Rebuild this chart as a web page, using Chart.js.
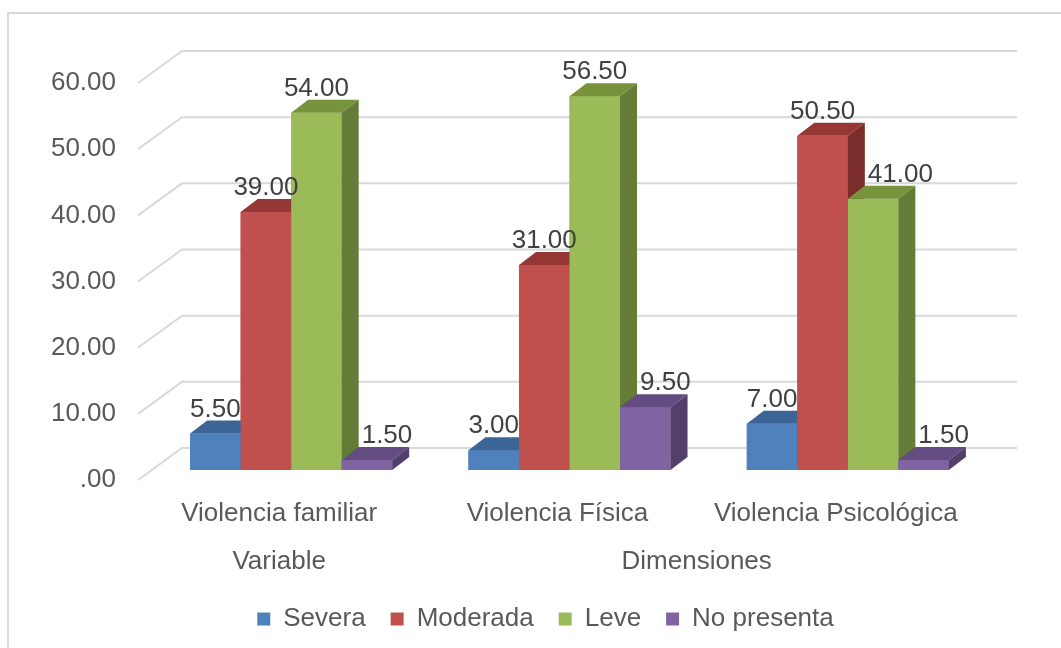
<!DOCTYPE html>
<html>
<head>
<meta charset="utf-8">
<script src="https://cdn.jsdelivr.net/npm/chart.js@4.4.0/dist/chart.umd.min.js"></script>
<style>
  html, body { margin: 0; padding: 0; background: #fff; }
</style>
</head>
<body>
<canvas id="chart" width="1061" height="648"></canvas>
<script>
// data
const categories = ["Violencia familiar", "Violencia Física", "Violencia Psicológica"];
const groupLabels = ["Variable", "Dimensiones"];
const groupSpans = [[0, 0], [1, 2]];
const seriesNames = ["Severa", "Moderada", "Leve", "No presenta"];
const severa = [5.5, 3.0, 7.0];
const moderada = [39.0, 31.0, 50.5];
const leve = [54.0, 56.5, 41.0];
const noPresenta = [1.5, 9.5, 1.5];
const yTicks = [0, 10, 20, 30, 40, 50, 60];

// colours: front, top, side
const frontColors = ["#4f81bd", "#c0504d", "#9bbb59", "#8064a2"];
const topColors = ["#3c6595", "#953735", "#77933c", "#634c81"];
const sideColors = ["#345782", "#7b2d2b", "#657c37", "#52406b"];

const FONT = "'Liberation Sans', Arial, sans-serif";
const BAR_DX = 17, BAR_DY = 13;          // depth of each bar
const WALL = { fx: -14, fy: 10, bx: 30, by: -22 }; // floor front / back wall, relative to bar plane
const GRID = "#d9d9d9";

// box round the whole chart
const frame = {
  id: "frame",
  beforeDraw(chart) {
    const ctx = chart.ctx;
    ctx.save();
    ctx.strokeStyle = GRID;
    ctx.lineWidth = 2;
    ctx.strokeRect(8, 13, 1100, 700);
    ctx.restore();
  },
};

// push the legend over so it sits where the original one does
const legendShift = {
  id: "legendShift",
  afterLayout(chart) {
    chart.legend.left += 52;
    chart.legend.right += 52;
  },
};

// side wall + back wall gridlines
const walls = {
  id: "walls",
  beforeDatasetsDraw(chart) {
    const ctx = chart.ctx;
    const ys = chart.scales.y;
    const ca = chart.chartArea;
    ctx.save();
    ctx.strokeStyle = GRID;
    ctx.lineWidth = 2;
    yTicks.forEach((v) => {
      const py = ys.getPixelForValue(v);
      ctx.beginPath();
      ctx.moveTo(ca.left + WALL.fx, py + WALL.fy);
      ctx.lineTo(ca.left + WALL.bx, py + WALL.by);
      ctx.lineTo(ca.right + WALL.bx, py + WALL.by);
      ctx.stroke();
    });
    ctx.restore();
  },
};

// 3d boxes: front, top, side, left to right so the next bar hides the side of the one before
const bars3d = {
  id: "bars3d",
  afterDatasetsDraw(chart) {
    const ctx = chart.ctx;
    ctx.save();
    categories.forEach((c, ci) => {
      chart.data.datasets.forEach((ds, i) => {
        const bar = chart.getDatasetMeta(i).data[ci];
        const l = bar.x - bar.width / 2;
        const r = bar.x + bar.width / 2;
        ctx.fillStyle = frontColors[i];
        ctx.fillRect(l, bar.y, r - l, bar.base - bar.y);
        ctx.fillStyle = topColors[i];
        ctx.beginPath();
        ctx.moveTo(l, bar.y);
        ctx.lineTo(l + BAR_DX, bar.y - BAR_DY);
        ctx.lineTo(r + BAR_DX, bar.y - BAR_DY);
        ctx.lineTo(r, bar.y);
        ctx.closePath();
        ctx.fill();
        ctx.fillStyle = sideColors[i];
        ctx.beginPath();
        ctx.moveTo(r, bar.y);
        ctx.lineTo(r + BAR_DX, bar.y - BAR_DY);
        ctx.lineTo(r + BAR_DX, bar.base - BAR_DY);
        ctx.lineTo(r, bar.base);
        ctx.closePath();
        ctx.fill();
      });
    });
    ctx.restore();
  },
};

// value labels over the bars, pushed right when the bar before is in the way
const valueLabels = {
  id: "valueLabels",
  afterDatasetsDraw(chart) {
    const ctx = chart.ctx;
    ctx.save();
    ctx.font = "26px " + FONT;
    ctx.fillStyle = "#404040";
    ctx.textAlign = "left";
    ctx.textBaseline = "alphabetic";
    categories.forEach((c, ci) => {
      chart.data.datasets.forEach((ds, di) => {
        const bar = chart.getDatasetMeta(di).data[ci];
        const txt = ds.data[ci].toFixed(2);
        const w = ctx.measureText(txt).width;
        const base = bar.y - BAR_DY - 4;
        let left = bar.x - w / 2;
        if (di > 0) {
          const prev = chart.getDatasetMeta(di - 1).data[ci];
          if (prev.y - BAR_DY < base) {
            left = Math.max(left, prev.x + prev.width / 2 + BAR_DX + 3);
          }
        }
        ctx.fillText(txt, left, base);
      });
    });
    ctx.restore();
  },
};

// second row of category labels
const groupRow = {
  id: "groupRow",
  afterDraw(chart) {
    const ctx = chart.ctx;
    const xs = chart.scales.x;
    const ca = chart.chartArea;
    ctx.save();
    ctx.font = "26px " + FONT;
    ctx.fillStyle = "#595959";
    ctx.textAlign = "center";
    ctx.textBaseline = "middle";
    groupLabels.forEach((g, gi) => {
      const [a, b] = groupSpans[gi];
      const x = (xs.getPixelForValue(a) + xs.getPixelForValue(b)) / 2 - 12;
      ctx.fillText(g, x, ca.bottom + 92);
    });
    ctx.restore();
  },
};

const seriesData = [severa, moderada, leve, noPresenta];

new Chart(document.getElementById("chart"), {
  type: "bar",
  data: {
    labels: categories,
    datasets: seriesNames.map((name, i) => ({
      label: name,
      data: seriesData[i],
      backgroundColor: frontColors[i],
      borderWidth: 0,
      categoryPercentage: 0.726,
      barPercentage: 1,
    })),
  },
  options: {
    responsive: false,
    animation: false,
    layout: { padding: { left: 0, right: 74, top: 73, bottom: 6 } },
    scales: {
      x: {
        grid: { display: false, drawTicks: false },
        border: { display: false },
        ticks: {
          color: "#595959",
          font: { family: FONT, size: 26 },
          padding: 28,
          labelOffset: -12,
          maxRotation: 0,
          autoSkip: false,
        },
        afterFit: (s) => { s.height = 111; },
      },
      y: {
        min: 0,
        max: 60,
        grid: { display: false, drawTicks: false },
        border: { display: false },
        afterBuildTicks: (s) => { s.ticks = yTicks.map((v) => ({ value: v })); },
        ticks: {
          color: "#595959",
          font: { family: FONT, size: 26 },
          padding: 36,
          labelOffset: 10,
          callback: (v) => (v === 0 ? ".00" : Number(v).toFixed(2)),
        },
        afterFit: (s) => { s.width = 152; },
      },
    },
    plugins: {
      tooltip: { enabled: false },
      legend: {
        position: "bottom",
        labels: {
          color: "#595959",
          font: { family: FONT, size: 26 },
          boxWidth: 13,
          boxHeight: 13,
          padding: 25,
        },
      },
    },
  },
  plugins: [frame, legendShift, walls, bars3d, valueLabels, groupRow],
});
</script>
</body>
</html>
